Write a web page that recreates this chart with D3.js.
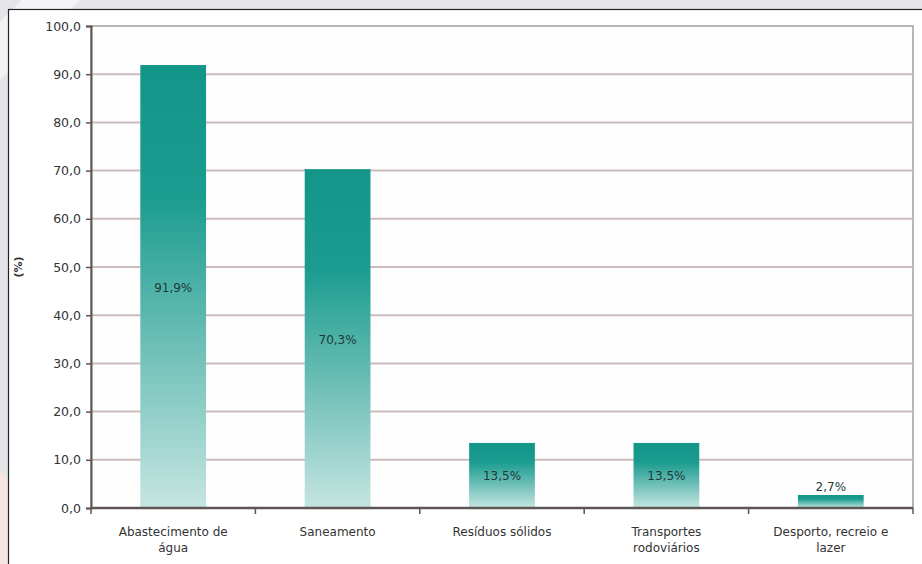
<!DOCTYPE html>
<html>
<head>
<meta charset="utf-8">
<script src="https://cdn.jsdelivr.net/npm/d3@7"></script>
<style>
	body { margin: 0; background: #e4e4e9; }
	svg { display: block; }
	text { font-family: "DejaVu Sans", sans-serif; }
</style>
</head>
<body>
<svg id="chart" width="922" height="564"></svg>
<script>
	'use strict';

	// Data
	var categories = ['Abastecimento de|água', 'Saneamento', 'Resíduos sólidos', 'Transportes|rodoviários', 'Desporto, recreio e|lazer'],
		values = [91.9, 70.3, 13.5, 13.5, 2.7],
		yTicks = [0, 10, 20, 30, 40, 50, 60, 70, 80, 90, 100];

	var W = 922, H = 564,
		margin = {top: 26, right: 9, bottom: 56, left: 91},
		plotW = W - margin.left - margin.right,
		plotH = H - margin.top - margin.bottom;

	var svg = d3.select('#chart');

	// page background (grey with light stripes)
	svg.append('rect').attr('width', W).attr('height', H).attr('fill', '#e4e4e9');
	svg.append('path').attr('d', 'M22,0 L80,0 L0,80 L0,22 Z').attr('fill', '#f3f3f6');
	svg.append('path').attr('d', 'M0,470 L40,520 L40,564 L0,564 Z').attr('fill', '#f6e4e0');

	// chart frame
	svg.append('rect')
		.attr('x', 8.5).attr('y', 9.5)
		.attr('width', W).attr('height', H)
		.attr('fill', '#fff')
		.attr('stroke', '#222')
		.attr('stroke-width', 1.2);

	var defs = svg.append('defs');
	var grad = defs.append('linearGradient')
		.attr('id', 'barGrad')
		.attr('x1', 0).attr('y1', 0).attr('x2', 0).attr('y2', 1);
	grad.append('stop').attr('offset', '0%').attr('stop-color', '#13958a');
	grad.append('stop').attr('offset', '30%').attr('stop-color', '#1c9c90');
	grad.append('stop').attr('offset', '100%').attr('stop-color', '#c6e5e1');

	var g = svg.append('g')
		.attr('transform', 'translate(' + margin.left + ',' + margin.top + ')');

	var x = d3.scaleBand()
		.domain(categories)
		.range([0, plotW])
		.paddingInner(0.6)
		.paddingOuter(0.3);

	var y = d3.scaleLinear()
		.domain([0, 100])
		.range([plotH, 0]);

	// plot area
	g.append('rect')
		.attr('width', plotW).attr('height', plotH)
		.attr('fill', '#fefefe')
		.attr('stroke', '#a59c9c')
		.attr('stroke-width', 1.5);

	// gridlines
	g.selectAll('line.grid')
		.data(yTicks.filter(function (t) { return t > 0 && t < 100; }))
		.enter().append('line')
		.attr('class', 'grid')
		.attr('x1', 0).attr('x2', plotW)
		.attr('y1', function (d) { return y(d); })
		.attr('y2', function (d) { return y(d); })
		.attr('stroke', '#cdbcbb')
		.attr('stroke-width', 2);

	// bars
	g.selectAll('rect.bar')
		.data(values)
		.enter().append('rect')
		.attr('class', 'bar')
		.attr('x', function (d, i) { return x(categories[i]); })
		.attr('y', function (d) { return y(d); })
		.attr('width', x.bandwidth())
		.attr('height', function (d) { return plotH - y(d); })
		.attr('fill', 'url(#barGrad)');

	// value labels
	g.selectAll('text.val')
		.data(values)
		.enter().append('text')
		.attr('class', 'val')
		.attr('x', function (d, i) { return x(categories[i]) + x.bandwidth() / 2; })
		.attr('y', function (d) {
			var h = plotH - y(d);
			return h < 20 ? y(d) - 4 : y(d) + h / 2 + 5;
		})
		.attr('text-anchor', 'middle')
		.attr('font-size', '12px')
		.attr('fill', '#1d3b39')
		.text(function (d) { return d3.format('.1f')(d).replace('.', ',') + '%'; });

	// y axis
	var yAxis = g.append('g')
		.call(d3.axisLeft(y).tickValues(yTicks).tickSize(5).tickPadding(5)
			.tickFormat(function (d) { return d3.format('.1f')(d).replace('.', ','); }));
	yAxis.select('.domain').attr('stroke', '#5e5555').attr('stroke-width', 2);
	yAxis.selectAll('.tick line').attr('stroke', '#5e5555').attr('stroke-width', 1.5);
	yAxis.selectAll('.tick text')
		.attr('font-family', '"DejaVu Sans", sans-serif')
		.attr('font-size', '12.5px')
		.attr('fill', '#333');

	// x axis
	var step = x.step();
	g.append('line')
		.attr('x1', 0).attr('x2', plotW)
		.attr('y1', plotH).attr('y2', plotH)
		.attr('stroke', '#5e5555').attr('stroke-width', 2.5);
	g.selectAll('line.xtick')
		.data(d3.range(categories.length + 1))
		.enter().append('line')
		.attr('class', 'xtick')
		.attr('x1', function (i) { return i * step; })
		.attr('x2', function (i) { return i * step; })
		.attr('y1', plotH).attr('y2', plotH + 6)
		.attr('stroke', '#5e5555').attr('stroke-width', 1.5);

	var xl = g.selectAll('text.xlab')
		.data(categories)
		.enter().append('text')
		.attr('class', 'xlab')
		.attr('x', function (d) { return x(d) + x.bandwidth() / 2; })
		.attr('y', plotH + 28)
		.attr('text-anchor', 'middle')
		.attr('font-size', '12px')
		.attr('fill', '#333');
	xl.each(function (d) {
		var t = d3.select(this);
		d.split('|').forEach(function (line, k) {
			t.append('tspan')
				.attr('x', x(d) + x.bandwidth() / 2)
				.attr('dy', k === 0 ? 0 : 16)
				.text(line);
		});
	});

	// y axis title
	svg.append('text')
		.attr('transform', 'translate(22,' + (margin.top + plotH / 2) + ') rotate(-90)')
		.attr('text-anchor', 'middle')
		.attr('font-size', '11px')
		.attr('font-weight', 'bold')
		.attr('fill', '#333')
		.text('(%)');
</script>
</body>
</html>
